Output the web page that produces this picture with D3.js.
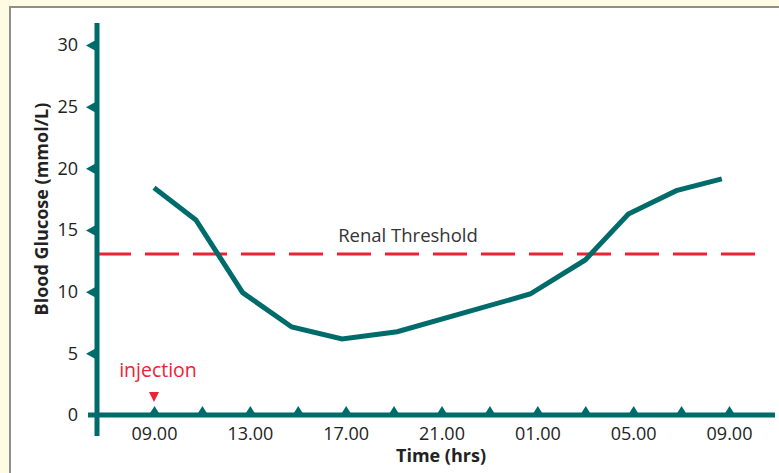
<!DOCTYPE html>
<html>
<head>
<meta charset="utf-8">
<script src="https://cdn.jsdelivr.net/npm/d3@7/dist/d3.min.js"></script>
<style>
  html, body { margin: 0; padding: 0; background: #fffbe3; }
  svg { display: block; }
  text { font-family: "Open Sans", "Noto Sans", sans-serif; }
</style>
</head>
<body>
<script>
// hours after 09.00
var hours = [0, 1.75, 3.7, 5.75, 7.85, 10.15, 15.7, 18, 19.8, 21.8, 23.7];
var glucose = [18.43, 15.81, 9.92, 7.14, 6.16, 6.75, 9.81, 12.57, 16.3, 18.19, 19.14];
var threshold = 13.05;
var xTickHours = [0, 2, 4, 6, 8, 10, 12, 14, 16, 18, 20, 22, 24];
var xTickLabels = ["09.00", "", "13.00", "", "17.00", "", "21.00", "", "01.00", "", "05.00", "", "09.00"];
var yTicks = [0, 5, 10, 15, 20, 25, 30];

var W = 779, H = 473;
var teal = "#006b6b", red = "#ee2233";

var svg = d3.select("body").append("svg").attr("width", W).attr("height", H);

// white panel with grey edge
svg.append("rect").attr("x", 10).attr("y", 7).attr("width", W).attr("height", H)
    .attr("fill", "#fff").attr("stroke", "#8f8f8a").attr("stroke-width", 2);

var x = d3.scaleLinear().domain([0, 24]).range([154, 729]);
var y = d3.scaleLinear().domain([0, 30]).range([415, 45]);

// renal threshold
svg.append("line")
    .attr("x1", 97).attr("x2", 757)
    .attr("y1", y(threshold)).attr("y2", y(threshold))
    .attr("stroke", red).attr("stroke-width", 3)
    .attr("stroke-dasharray", "34,14");

svg.append("text").attr("x", 408).attr("y", 242)
    .attr("text-anchor", "middle").attr("font-size", 18.5).attr("fill", "#333")
    .text("Renal Threshold");

// glucose curve
var line = d3.line().x(function (d, i) { return x(hours[i]); }).y(function (d) { return y(d); });
svg.append("path").datum(glucose)
    .attr("d", line)
    .attr("fill", "none").attr("stroke", teal).attr("stroke-width", 5)
    .attr("stroke-linejoin", "miter");

// y axis
svg.append("line").attr("x1", 97).attr("x2", 97).attr("y1", 23).attr("y2", 436)
    .attr("stroke", teal).attr("stroke-width", 5);
var yAxis = svg.append("g").attr("transform", "translate(97,0)")
    .call(d3.axisLeft(y).tickValues(yTicks).tickSize(0).tickPadding(19));
yAxis.select(".domain").remove();
yAxis.selectAll("text").attr("font-size", 18).attr("fill", "#222")
    .style("font-family", "'Open Sans', 'Noto Sans', sans-serif");
yAxis.selectAll(".tick").filter(function (d) { return d > 0; })
    .append("path").attr("d", "M-2,-5L-2,5L-11,0Z").attr("fill", teal);

// x axis
svg.append("line").attr("x1", 88).attr("x2", 775).attr("y1", 415).attr("y2", 415)
    .attr("stroke", teal).attr("stroke-width", 5);
var xAxis = svg.append("g").attr("transform", "translate(0,415)")
    .call(d3.axisBottom(x).tickValues(xTickHours).tickSize(0).tickPadding(12)
        .tickFormat(function (d, i) { return xTickLabels[i]; }));
xAxis.select(".domain").remove();
xAxis.selectAll("text").attr("font-size", 18).attr("fill", "#222")
    .style("font-family", "'Open Sans', 'Noto Sans', sans-serif");
xAxis.selectAll(".tick")
    .append("path").attr("d", "M-5,-1L5,-1L0,-9Z").attr("fill", teal);

// axis titles
svg.append("text").attr("x", 441).attr("y", 462)
    .attr("text-anchor", "middle").attr("font-size", 18).attr("font-weight", "bold").attr("fill", "#222")
    .text("Time (hrs)");
svg.append("text").attr("transform", "translate(48,209) rotate(-90)")
    .attr("text-anchor", "middle").attr("font-size", 18).attr("font-weight", "bold").attr("fill", "#222")
    .text("Blood Glucose (mmol/L)");

// injection marker
svg.append("text").attr("x", 158).attr("y", 377)
    .attr("text-anchor", "middle").attr("font-size", 19.5).attr("fill", red)
    .text("injection");
svg.append("path")
    .attr("transform", "translate(" + x(0) + ",392)")
    .attr("d", "M-5,0L5,0L0,10Z").attr("fill", red);
</script>
</body>
</html>
